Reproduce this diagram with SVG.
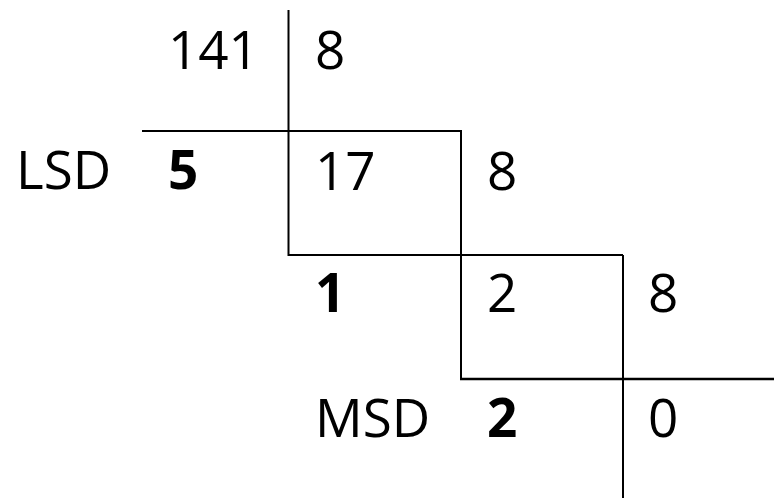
<svg xmlns="http://www.w3.org/2000/svg" width="774" height="498" viewBox="0 0 774 498">
<style>
text{font-family:"Open Sans","Noto Sans","Liberation Sans",sans-serif;font-size:53px;fill:#000}
.b{font-weight:bold}
.ln{stroke:#000;stroke-width:2;fill:none}
</style>
<rect width="774" height="498" fill="#fff"/>
<g id="lines">
<path class="ln" d="M288.5,10 V255 H623 M142,131 H461 V379 M623,255 V498"/>
<path d="M460,379 H774" stroke="#000" stroke-width="2.5"/>
</g>
<g id="row1"><text x="168" y="69">141</text><text x="315" y="69">8</text></g>
<g id="row2"><text x="16" y="189">LSD</text><text class="b" x="168" y="189">5</text><text x="315" y="190">17</text><text x="487" y="190">8</text></g>
<g id="row3"><text class="b" x="315" y="312">1</text><text x="487" y="312">2</text><text x="648" y="312">8</text></g>
<g id="row4"><text x="315" y="437">MSD</text><text class="b" x="487" y="437">2</text><text x="648" y="437">0</text></g>
</svg>
